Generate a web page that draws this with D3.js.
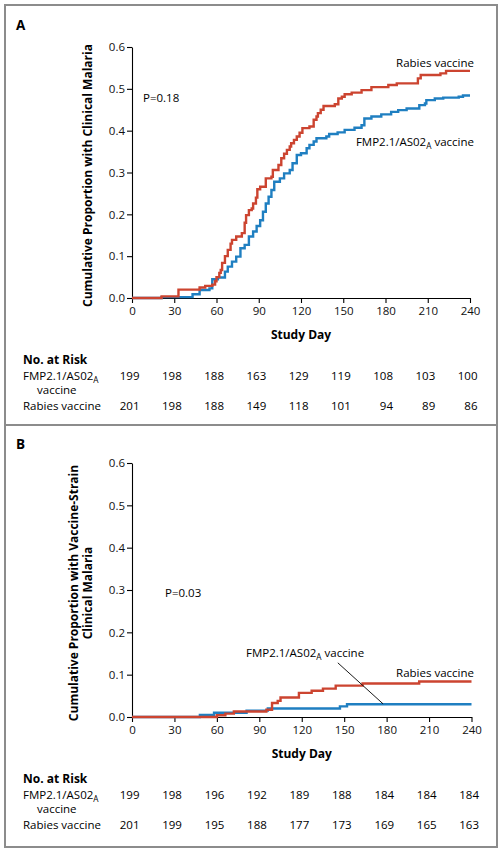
<!DOCTYPE html>
<html>
<head>
<meta charset="utf-8">
<script src="https://cdn.jsdelivr.net/npm/d3@7"></script>
<style>
  html, body { margin: 0; padding: 0; background: #fff; }
  svg { display: block; font-family: "Open Sans", "Noto Sans", sans-serif; }
</style>
</head>
<body>
<svg id="chart" width="503" height="854"></svg>
<script>
// ---------- DATA ----------
const dayTicks = [0, 30, 60, 90, 120, 150, 180, 210, 240];
const yTicks = [0, 0.1, 0.2, 0.3, 0.4, 0.5, 0.6];

// Panel A: cumulative proportion with clinical malaria (step points: [day, proportion])
const fmpA = [[0,0],[21,0.002],[43,0.009],[48,0.019],[55,0.023],[57,0.045],[61,0.049],[66,0.063],[68,0.075],[71,0.087],[74,0.099],[77,0.119],[80,0.127],[83,0.147],[86,0.159],[88.5,0.172],[91,0.186],[93,0.206],[95,0.226],[97,0.242],[99,0.258],[101,0.278],[105,0.286],[108,0.298],[112,0.306],[114,0.322],[117,0.342],[120,0.346],[124,0.358],[126,0.366],[129,0.374],[131,0.382],[138,0.386],[140,0.392],[146,0.396],[151,0.402],[158,0.407],[163,0.413],[165,0.429],[170,0.434],[177,0.439],[184,0.445],[189,0.449],[195,0.453],[204,0.461],[208,0.465],[209,0.473],[215,0.477],[221,0.479],[232,0.481],[235,0.484],[240,0.484]];
const rabiesA = [[0,0],[21,0.004],[33,0.02],[48,0.025],[52,0.029],[57,0.032],[59,0.04],[60,0.05],[62,0.06],[63,0.067],[64,0.084],[66,0.1],[68,0.115],[70,0.13],[71,0.139],[74,0.147],[78,0.155],[80,0.18],[81,0.198],[83,0.21],[85,0.214],[86,0.226],[88,0.24],[89,0.26],[91,0.266],[95,0.286],[99,0.29],[100,0.306],[104,0.318],[106,0.334],[108,0.345],[110,0.354],[112,0.362],[113,0.37],[115,0.378],[117,0.386],[119,0.395],[121,0.406],[126,0.41],[129,0.426],[131,0.434],[132,0.442],[134,0.45],[136,0.459],[144,0.463],[146.5,0.477],[149,0.481],[151,0.487],[156,0.491],[163,0.497],[170,0.504],[182,0.509],[188,0.513],[203,0.525],[205,0.533],[219,0.537],[223,0.543],[240,0.543]];

// Panel B: cumulative proportion with vaccine-strain clinical malaria
const fmpB = [[0,0],[48,0.005],[58,0.01],[81,0.015],[96,0.02],[147,0.025],[152,0.03],[240,0.03]];
const rabiesB = [[0,0],[60,0.004],[66,0.008],[72,0.013],[95,0.017],[99,0.033],[103,0.038],[105,0.046],[118,0.057],[127,0.062],[135,0.067],[144,0.074],[163,0.079],[203,0.084],[240,0.084]];

// Number at risk
const riskFmpA = [199, 198, 188, 163, 129, 119, 108, 103, 100];
const riskRabA = [201, 198, 188, 149, 118, 101, 94, 89, 86];
const riskFmpB = [199, 198, 196, 192, 189, 188, 184, 184, 184];
const riskRabB = [201, 199, 195, 188, 177, 173, 169, 165, 163];

const pA = "P=0.18";
const pB = "P=0.03";

// ---------- STYLE ----------
const RED = "#cc4430";
const BLUE = "#1f7fc1";
const FS = 11.5;

const svg = d3.select("#chart");

// Frame
svg.append("rect").attr("x", 5).attr("y", 5).attr("width", 492).attr("height", 842)
  .attr("fill", "none").attr("stroke", "#8c8c8c").attr("stroke-width", 2);
svg.append("line").attr("x1", 5).attr("x2", 497).attr("y1", 425).attr("y2", 425)
  .attr("stroke", "#8c8c8c").attr("stroke-width", 2);

function fmpLabel(sel, fs, suffix) {
  sel.append("tspan").text("FMP2.1/AS02");
  sel.append("tspan").attr("font-size", fs * 0.72).attr("dy", 3).text("A");
  if (suffix) sel.append("tspan").attr("dy", -3).text(suffix);
  return sel;
}

function drawPanel(cfg) {
  const g = svg.append("g");
  const x = d3.scaleLinear().domain([0, 240]).range([132, cfg.xEnd]);
  const y = d3.scaleLinear().domain([0, 0.6]).range([cfg.y0, cfg.y6]);

  // panel letter
  g.append("text").attr("x", 16).attr("y", cfg.y0 - 268).attr("font-size", 13.5)
    .attr("font-weight", "bold").text(cfg.letter);

  // axes
  const yAxis = d3.axisLeft(y).tickValues(yTicks).tickFormat(d3.format(".1f"))
    .tickSize(5).tickSizeOuter(0).tickPadding(2);
  const ya = g.append("g").attr("transform", `translate(132,0)`).call(yAxis);
  const xAxis = d3.axisBottom(x).tickValues(dayTicks).tickFormat(d3.format("d"))
    .tickSize(5).tickSizeOuter(0).tickPadding(4);
  const xa = g.append("g").attr("transform", `translate(0,${cfg.y0})`).call(xAxis);
  [ya, xa].forEach(a => {
    a.selectAll("path,line").attr("stroke", "#000").attr("stroke-width", 1.1);
    a.selectAll("text").attr("font-size", FS).attr("fill", "#111")
      .attr("font-family", '"Open Sans", sans-serif');
  });

  // curves
  const line = d3.line().x(d => x(d[0])).y(d => y(d[1])).curve(d3.curveStepAfter);
  g.append("path").datum(cfg.fmp).attr("d", line).attr("fill", "none")
    .attr("stroke", BLUE).attr("stroke-width", 2.4);
  g.append("path").datum(cfg.rab).attr("d", line).attr("fill", "none")
    .attr("stroke", RED).attr("stroke-width", 2.4);

  // y label
  const yl = g.append("text").attr("transform", `translate(0,${(cfg.y0 + cfg.y6) / 2 + 3}) rotate(-90)`)
    .attr("text-anchor", "middle").attr("font-size", 12).attr("font-weight", "bold");
  cfg.yLabel.forEach((t, i) => {
    yl.append("tspan").attr("x", 0).attr("y", cfg.yLabelX[i]).text(t);
  });

  // x label
  g.append("text").attr("x", (x(0) + x(240)) / 2).attr("y", cfg.y0 + 41)
    .attr("text-anchor", "middle").attr("font-size", 12).attr("font-weight", "bold").text("Study Day");

  // P value
  g.append("text").attr("x", cfg.pPos[0]).attr("y", cfg.pPos[1]).attr("font-size", FS).text(cfg.p);

  // series labels
  g.append("text").attr("x", cfg.rabPos[0]).attr("y", cfg.rabPos[1]).attr("text-anchor", cfg.rabAnchor)
    .attr("font-size", FS).text("Rabies vaccine");
  const fl = g.append("text").attr("x", cfg.fmpPos[0]).attr("y", cfg.fmpPos[1])
    .attr("text-anchor", cfg.fmpAnchor).attr("font-size", FS);
  fmpLabel(fl, FS, " vaccine");
  if (cfg.leader) {
    g.append("line").attr("x1", x(cfg.leader[0][0])).attr("y1", y(cfg.leader[0][1]))
      .attr("x2", x(cfg.leader[1][0])).attr("y2", y(cfg.leader[1][1]))
      .attr("stroke", "#000").attr("stroke-width", 0.9);
  }

  // number at risk table
  const t0 = cfg.y0 + 66;
  g.append("text").attr("x", 23).attr("y", t0).attr("font-size", 12).attr("font-weight", "bold").text("No. at Risk");
  const r1 = g.append("text").attr("x", 23).attr("y", t0 + 16).attr("font-size", FS);
  fmpLabel(r1, FS, null);
  g.append("text").attr("x", 37).attr("y", t0 + 30).attr("font-size", FS).text("vaccine");
  g.append("text").attr("x", 23).attr("y", t0 + 46).attr("font-size", FS).text("Rabies vaccine");
  g.selectAll(null).data(cfg.riskF).enter().append("text")
    .attr("x", (d, i) => x(dayTicks[i]) + 7.5).attr("y", t0 + 16)
    .attr("text-anchor", "end").attr("font-size", FS).text(d => d);
  g.selectAll(null).data(cfg.riskR).enter().append("text")
    .attr("x", (d, i) => x(dayTicks[i]) + 7.5).attr("y", t0 + 46)
    .attr("text-anchor", "end").attr("font-size", FS).text(d => d);
}

drawPanel({
  letter: "A", y0: 298, y6: 47, xEnd: 470,
  fmp: fmpA, rab: rabiesA, riskF: riskFmpA, riskR: riskRabA, p: pA,
  yLabel: ["Cumulative Proportion with Clinical Malaria"], yLabelX: [92],
  pPos: [143, 102],
  rabPos: [474, 67], rabAnchor: "end",
  fmpPos: [474, 146], fmpAnchor: "end"
});

drawPanel({
  letter: "B", y0: 717, y6: 463, xEnd: 471.5,
  fmp: fmpB, rab: rabiesB, riskF: riskFmpB, riskR: riskRabB, p: pB,
  yLabel: ["Cumulative Proportion with Vaccine-Strain", "Clinical Malaria"], yLabelX: [78, 92],
  pPos: [165, 597],
  rabPos: [474, 677], rabAnchor: "end",
  fmpPos: [246, 657], fmpAnchor: "start",
  leader: [[145.5, 0.128], [177.5, 0.031]]
});
</script>
</body>
</html>
